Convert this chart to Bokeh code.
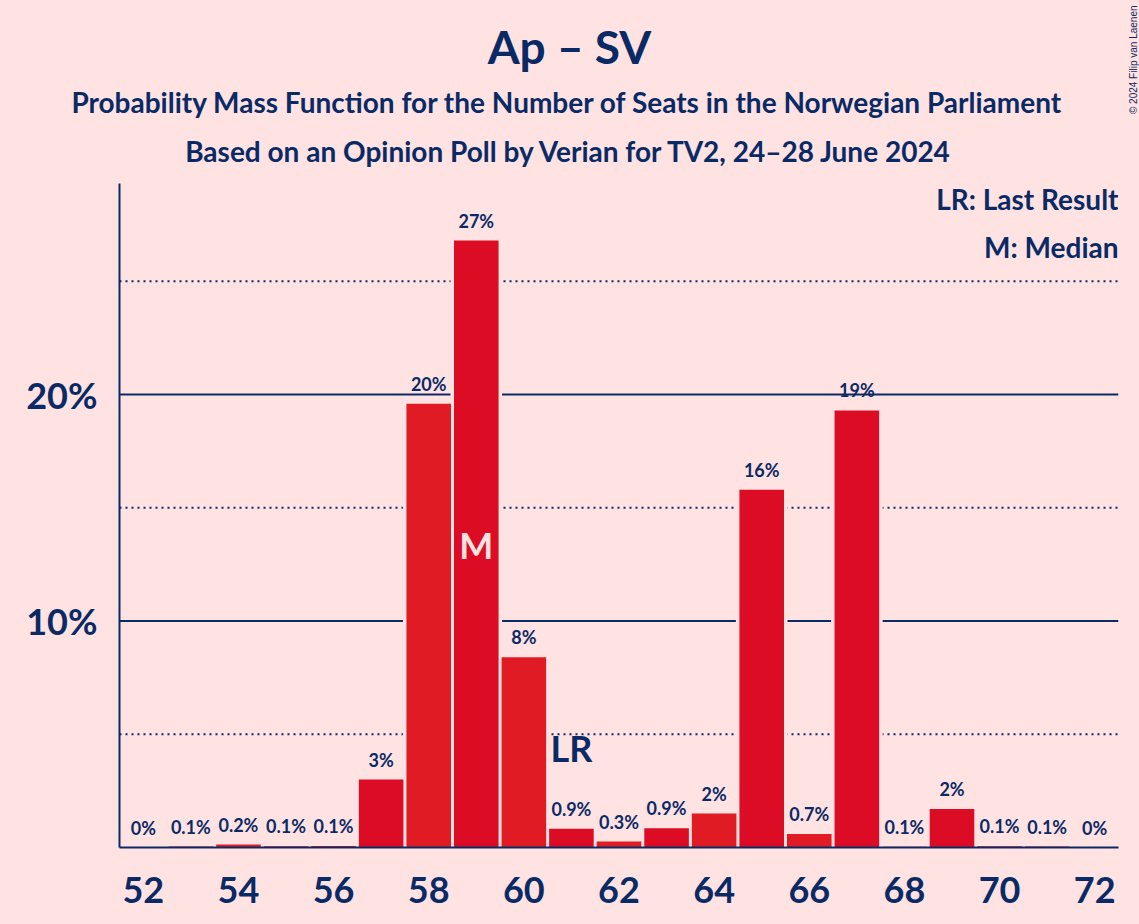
from bokeh.plotting import figure
from bokeh.layouts import column
from bokeh.models import ColumnDataSource, FixedTicker, Span, Label, LabelSet
from bokeh.core.properties import value
from bokeh.embed import file_html
from bokeh.resources import INLINE

# seats and probability mass (%)
seats = list(range(52, 73))
probs = [0.0, 0.04, 0.13, 0.06, 0.07, 3.0, 19.6, 26.8, 8.4, 0.83, 0.26,
         0.85, 1.5, 15.8, 0.6, 19.3, 0.03, 1.7, 0.06, 0.04, 0.0]
prob_labels = ["0%", "0.1%", "0.2%", "0.1%", "0.1%", "3%", "20%", "27%", "8%", "0.9%", "0.3%",
               "0.9%", "2%", "16%", "0.7%", "19%", "0.1%", "2%", "0.1%", "0.1%", "0%"]
median_seat = 59
median_y = 12.7
last_result_seat = 61
last_result_y = 3.75
y_ticks = [10, 20]
y_tick_labels = {10: "10%", 20: "20%"}
x_ticks = list(range(52, 73, 2))
solid_grid = [10, 20]
dotted_grid = [5, 15, 25]

BG = "#FFE2E2"
NAVY = "#0A2A66"
RED_DARK = "#DB0C23"
RED_LIGHT = "#E01B24"
FONT = "Lato"
W = 1139
HEAD_H = 180

# header with the titles (frame covers the whole header, 1 unit = 1 px)
head = figure(width=W, height=HEAD_H, x_range=(0, W), y_range=(0, HEAD_H),
              output_backend="svg", toolbar_location=None, min_border=0,
              x_axis_location=None, y_axis_location=None)
head.grid.grid_line_color = None
head.outline_line_color = None
head.background_fill_color = BG
head.border_fill_color = BG
head.frame_align = False


def head_label(x, y, text, size, shift, style="bold", font=FONT, angle=0, align="center"):
    head.add_layout(Label(x=x, y=HEAD_H - y, y_offset=shift, text=text, text_align=align,
                          text_baseline="alphabetic", text_font=font, text_font_style=style,
                          text_font_size=size, text_color=NAVY, angle=angle))


head_label(569, 66, "Ap – SV", "46px", 20)
head_label(567, 113, "Probability Mass Function for the Number of Seats in the Norwegian Parliament", "28px", 12)
head_label(569, 162, "Based on an Opinion Poll by Verian for TV2, 24–28 June 2024", "28px", 12)
head_label(1133, 5, "© 2024 Filip van Laenen", "10px", 0, style="normal", font="Liberation Sans",
           angle=1.5708, align="right")

# main chart
colors = [RED_LIGHT if s % 2 == 0 else RED_DARK for s in seats]
source = ColumnDataSource(data={"seat": seats, "prob": probs, "label": prob_labels, "color": colors})

p = figure(width=W, height=924 - HEAD_H, x_range=(51.5, 72.5), y_range=(0, 29.32),
           output_backend="svg", toolbar_location=None,
           min_border_left=119, min_border_right=21, min_border_top=183 - HEAD_H, min_border_bottom=77)
p.frame_align = False
p.background_fill_color = BG
p.border_fill_color = BG
p.outline_line_color = None
p.xgrid.grid_line_color = None
p.ygrid.grid_line_color = None

# grid lines
for g in solid_grid:
    p.add_layout(Span(location=g, dimension="width", line_color=NAVY, line_width=2, level="underlay"))
for g in dotted_grid:
    p.add_layout(Span(location=g, dimension="width", line_color=NAVY, line_width=2,
                      line_dash="2 4", level="underlay"))

# background-coloured halo behind bars, then the bars themselves
p.vbar(x="seat", top="prob", width=1.0, bottom=0, source=source,
       fill_color=BG, line_color=BG, line_width=4)
p.vbar(x="seat", top="prob", width=0.937, bottom=0, source=source,
       fill_color="color", line_color=None)

labels = LabelSet(x="seat", y="prob", text="label", source=source, y_offset=13,
                  text_align="center", text_baseline="alphabetic",
                  text_font=value(FONT), text_font_style="bold", text_font_size="18px",
                  text_color=NAVY)
p.add_layout(labels)

p.add_layout(Label(x=median_seat, y=median_y, y_offset=15, text="M", text_align="center",
                   text_baseline="alphabetic", text_font=FONT, text_font_style="bold",
                   text_font_size="36px", text_color=BG))
p.add_layout(Label(x=last_result_seat, y=last_result_y, y_offset=15, text="LR", text_align="center",
                   text_baseline="alphabetic", text_font=FONT, text_font_style="bold",
                   text_font_size="36px", text_color=NAVY))

# legend text, screen units relative to the plot frame
for y, txt in [(637, "LR: Last Result"), (589, "M: Median")]:
    p.add_layout(Label(x=999, y=y + 12, x_units="screen", y_units="screen", text=txt,
                       text_align="right", text_baseline="alphabetic", text_font=FONT,
                       text_font_style="bold", text_font_size="28px", text_color=NAVY))

# axes
p.xaxis.ticker = FixedTicker(ticks=x_ticks)
p.yaxis.ticker = FixedTicker(ticks=y_ticks)
p.yaxis.major_label_overrides = y_tick_labels
for ax in (p.xaxis, p.yaxis):
    ax.axis_line_color = NAVY
    ax.axis_line_width = 2
    ax.major_tick_line_color = None
    ax.minor_tick_line_color = None
    ax.major_tick_out = 0
    ax.major_tick_in = 0
    ax.minor_tick_out = 0
    ax.major_label_text_font = FONT
    ax.major_label_text_font_style = "bold"
    ax.major_label_text_font_size = "36px"
    ax.major_label_text_color = NAVY
p.yaxis.major_label_standoff = 22
p.xaxis.major_label_standoff = 29

layout = column(head, p, spacing=0, styles={"background-color": BG})
open("out.html", "w").write(file_html(layout, INLINE))
